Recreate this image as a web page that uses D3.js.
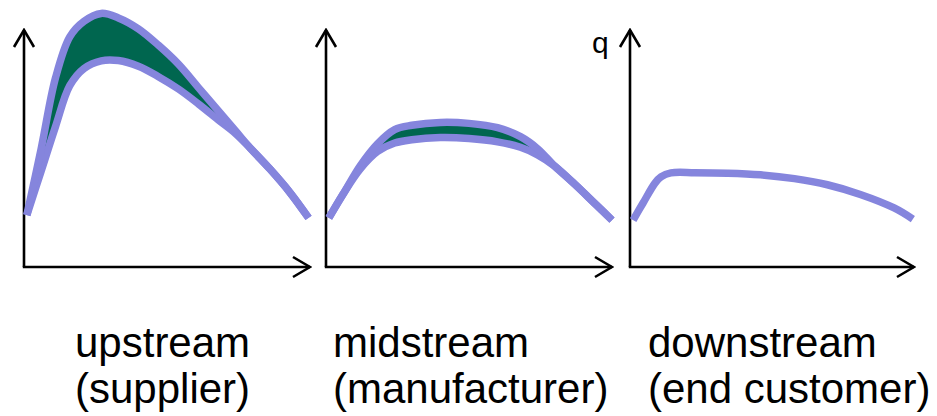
<!DOCTYPE html>
<html>
<head>
<meta charset="utf-8">
<script src="https://cdn.jsdelivr.net/npm/d3@7"></script>
<style>
  html, body { margin: 0; padding: 0; background: #ffffff; }
  svg { display: block; }
</style>
</head>
<body>
<svg id="chart" width="937" height="416"></svg>
<script>
// ---- data (x and q in relative units 0..100 of each panel's axes) ----
const panelNames = ["upstream", "midstream", "downstream"];
const labelLine1 = ["upstream", "midstream", "downstream"];
const labelLine2 = ["(supplier)", "(manufacturer)", "(end customer)"];
const axisLabelY = "q";

// upstream: two curves with a band between them
const upX     = [1, 6, 11, 16, 21, 27, 33, 40, 47, 54, 61, 68, 74, 79, 86, 93, 99.5];
const upUpper = [21.9, 49.9, 79.7, 97.1, 103.7, 107.0, 105.1, 100.5, 93.6, 85.6, 75.7, 65.8, 57.4, 50.3, 41.3, 31.4, 20.7];
const upLower = [21.9, 40.5, 59.2, 76.5, 83.8, 87.0, 87.1, 84.7, 80.3, 75.1, 68.8, 62.0, 56.3, 50.3, 41.3, 31.4, 20.7];

// midstream: smaller band
const midX     = [1, 6, 12, 18, 24, 30, 40, 50, 60, 68, 74, 80, 87, 94, 100];
const midUpper = [20.7, 30.8, 42.8, 52.0, 58.0, 59.8, 61.0, 60.6, 58.8, 55.0, 49.9, 42.5, 34.9, 26.8, 19.8];
const midLower = [20.7, 30.8, 41.4, 48.7, 52.3, 53.7, 54.6, 54.2, 52.8, 50.5, 47.3, 42.5, 34.9, 26.8, 19.8];

// downstream: single curve
const downX = [1.1, 4.6, 8.8, 10.9, 14.4, 22.8, 34.4, 46.0, 57.9, 69.5, 81.1, 93.0, 99.6];
const downQ = [19.8, 27.0, 35.4, 38.0, 39.7, 39.8, 39.6, 38.9, 37.3, 34.7, 30.6, 24.9, 20.2];

// ---- layout ----
const panelX0 = [24, 326, 630];
const panelX1 = [310, 612, 914];
const axisY0 = 267, axisY1 = 30;
const labelX = [75, 333, 648];
const curveColor = "#8585dd";
const bandColor = "#00664f";

const svg = d3.select("#chart");

svg.append("defs").append("marker")
  .attr("id", "arrow")
  .attr("markerUnits", "userSpaceOnUse")
  .attr("viewBox", "-20 -12 22 24")
  .attr("refX", 0).attr("refY", 0)
  .attr("markerWidth", 22).attr("markerHeight", 24)
  .attr("orient", "auto")
  .append("path")
  .attr("d", "M-17,-10L0,0L-17,10")
  .attr("fill", "none")
  .attr("stroke", "#000")
  .attr("stroke-width", 2.6);

const series = [
  { x: upX, upper: upUpper, lower: upLower },
  { x: midX, upper: midUpper, lower: midLower },
  { x: downX, upper: null, lower: downQ }
];

panelNames.forEach((name, i) => {
  const x = d3.scaleLinear().domain([0, 100]).range([panelX0[i], panelX1[i]]);
  const y = d3.scaleLinear().domain([0, 100]).range([axisY0, axisY1]);
  const g = svg.append("g").attr("class", "panel-" + name);

  // axes (no ticks), with open arrow heads
  const xAxis = g.append("g").attr("transform", `translate(0,${axisY0})`)
    .call(d3.axisBottom(x).tickValues([]).tickSizeOuter(0));
  xAxis.select(".domain").attr("d", `M${x(0) - 1.2},0H${x(100)}`)
    .attr("stroke", "#000").attr("stroke-width", 2.6).attr("marker-end", "url(#arrow)");
  const yAxis = g.append("g").attr("transform", `translate(${x(0)},0)`)
    .call(d3.axisLeft(y).tickValues([]).tickSizeOuter(0));
  yAxis.select(".domain").attr("d", `M0,${y(0)}V${y(100)}`)
    .attr("stroke", "#000").attr("stroke-width", 2.6).attr("marker-end", "url(#arrow)");

  const s = series[i];
  const pts = s.x.map((v, k) => ({ x: v, lo: s.lower[k], hi: s.upper ? s.upper[k] : null }));
  const curve = d3.curveCatmullRom.alpha(0.5);

  if (s.upper) {
    g.append("path").datum(pts)
      .attr("d", d3.area().x(d => x(d.x)).y0(d => y(d.lo)).y1(d => y(d.hi)).curve(curve))
      .attr("fill", bandColor);
  }
  g.append("path").datum(pts)
    .attr("d", d3.line().x(d => x(d.x)).y(d => y(d.lo)).curve(curve))
    .attr("fill", "none").attr("stroke", curveColor).attr("stroke-width", 7.5);
  if (s.upper) {
    g.append("path").datum(pts)
      .attr("d", d3.line().x(d => x(d.x)).y(d => y(d.hi)).curve(curve))
      .attr("fill", "none").attr("stroke", curveColor).attr("stroke-width", 7.5);
  }

  const t = g.append("text")
    .attr("font-family", "'Liberation Sans', Arial, sans-serif")
    .attr("font-size", 42)
    .attr("fill", "#000");
  t.append("tspan").attr("x", labelX[i]).attr("y", 357).text(labelLine1[i]);
  t.append("tspan").attr("x", labelX[i]).attr("y", 403).text(labelLine2[i]);

  if (i === 2) {
    g.append("text")
      .attr("x", x(0) - 38).attr("y", 53)
      .attr("font-family", "'Liberation Sans', Arial, sans-serif")
      .attr("font-size", 30)
      .attr("fill", "#000")
      .text(axisLabelY);
  }
});
</script>
</body>
</html>
